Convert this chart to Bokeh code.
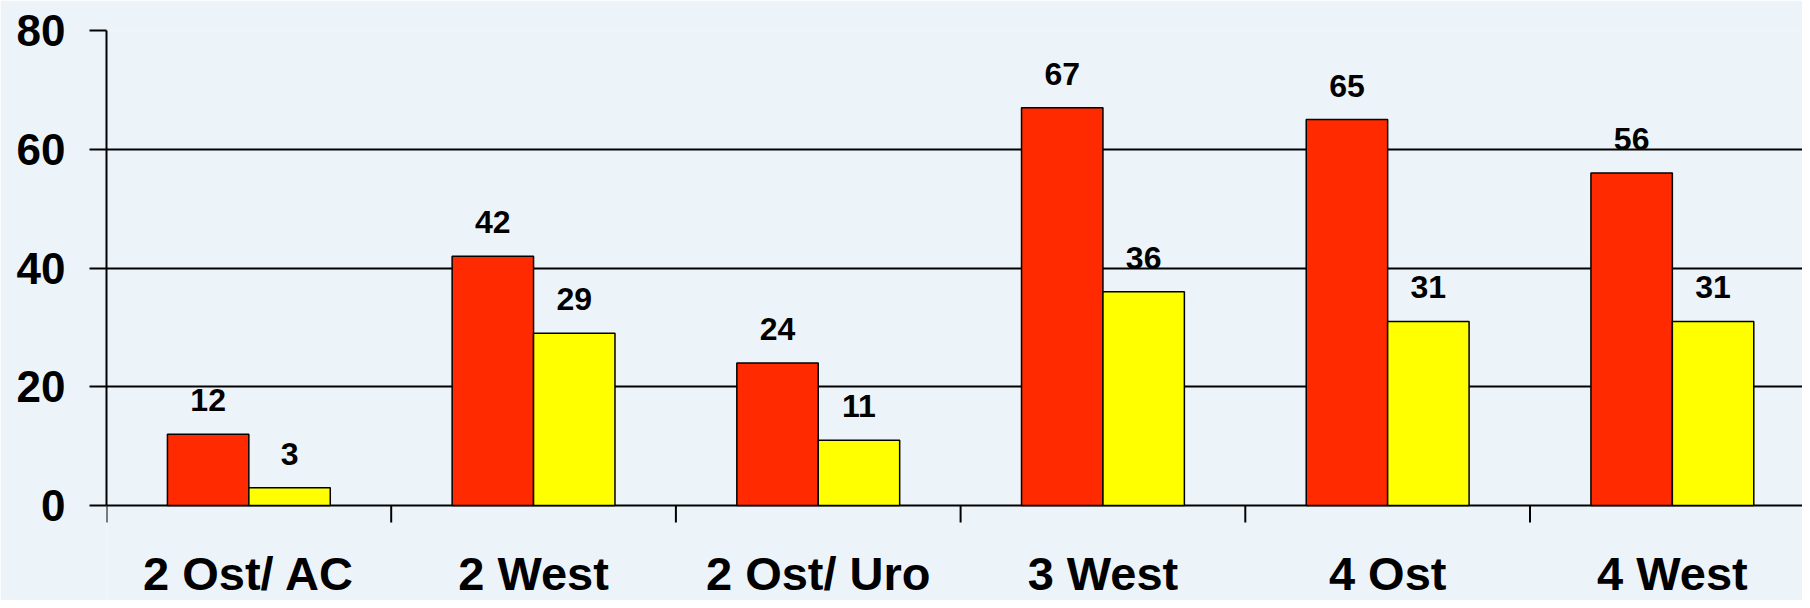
from bokeh.plotting import figure
from bokeh.models import FixedTicker, Range1d, ColumnDataSource
from bokeh.core.properties import value
from bokeh.embed import file_html
from bokeh.resources import INLINE

categories = ["2 Ost/ AC", "2 West", "2 Ost/ Uro", "3 West", "4 Ost", "4 West"]
series_red = [12, 42, 24, 67, 65, 56]
series_yellow = [3, 29, 11, 36, 31, 31]
y_ticks = [0, 20, 40, 60, 80]

BG = "#EDF4F9"
RED = "#FF2A00"
YELLOW = "#FFFF00"
FONT = "Liberation Sans"

W, H = 1802, 600
TOP, LEFT = 30, 106
ZERO_PX = 505            # pixel row of the value 0 inside the figure
CAT_PX = 284.7           # pixel width of one category slot
Y_MAX = 80
frame_h = H - TOP
px_per_unit = (ZERO_PX - TOP) / Y_MAX
y_start = -(frame_h - (ZERO_PX - TOP)) / px_per_unit
tick_len = 17 / px_per_unit
x_end = (W - LEFT) / CAT_PX

bar_w = 0.286
n = len(categories)
centers = [i + 0.5 for i in range(n)]
bounds_x = list(range(n + 1))

src = ColumnDataSource(dict(
    xr=[c - bar_w / 2 for c in centers],
    xy=[c + bar_w / 2 for c in centers],
    red=series_red,
    yellow=series_yellow,
    tr=[str(v) for v in series_red],
    ty=[str(v) for v in series_yellow],
))
cat_src = ColumnDataSource(dict(x=centers, y=[0] * n, name=categories))
tick_src = ColumnDataSource(dict(x=bounds_x, y0=[0] * (n + 1), y1=[-tick_len] * (n + 1)))

p = figure(width=W, height=H, output_backend="svg", toolbar_location=None,
           x_range=Range1d(0, x_end), y_range=Range1d(y_start, Y_MAX),
           min_border_left=LEFT, min_border_right=0, min_border_top=TOP, min_border_bottom=0)
p.background_fill_color = BG
p.border_fill_color = BG
p.outline_line_color = None

p.xgrid.grid_line_color = None
p.ygrid.ticker = FixedTicker(ticks=y_ticks)
p.ygrid.grid_line_color = "black"
p.ygrid.grid_line_width = 2

p.vbar(x="xr", top="red", width=bar_w, bottom=0, source=src,
       fill_color=RED, line_color="black", line_width=1.5)
p.vbar(x="xy", top="yellow", width=bar_w, bottom=0, source=src,
       fill_color=YELLOW, line_color="black", line_width=1.5)

# category boundary ticks below the zero line
p.segment(x0="x", y0="y0", x1="x", y1="y1", source=tick_src,
          line_color="black", line_width=2)

for xcol, ycol, tcol in (("xr", "red", "tr"), ("xy", "yellow", "ty")):
    p.text(x=xcol, y=ycol, text=tcol, source=src, y_offset=-34,
           text_align="center", text_baseline="alphabetic",
           text_font=value(FONT), text_font_style="bold",
           text_font_size="32px", text_color="black")

# category labels
p.text(x="x", y="y", text="name", source=cat_src, y_offset=68,
       text_align="center", text_baseline="middle",
       text_font=value(FONT), text_font_style="bold",
       text_font_size="47px", text_color="black")

p.xaxis.visible = False

ya = p.yaxis[0]
ya.bounds = (0, Y_MAX)
ya.ticker = FixedTicker(ticks=y_ticks, minor_ticks=[])
ya.major_tick_out = 17
ya.major_tick_in = 0
ya.major_tick_line_color = "black"
ya.major_tick_line_width = 2
ya.axis_line_color = "black"
ya.axis_line_width = 2
ya.major_label_standoff = 24
ya.major_label_text_font = FONT
ya.major_label_text_font_style = "bold"
ya.major_label_text_font_size = "44px"
ya.major_label_text_color = "black"

open("out.html", "w").write(file_html(p, INLINE))
